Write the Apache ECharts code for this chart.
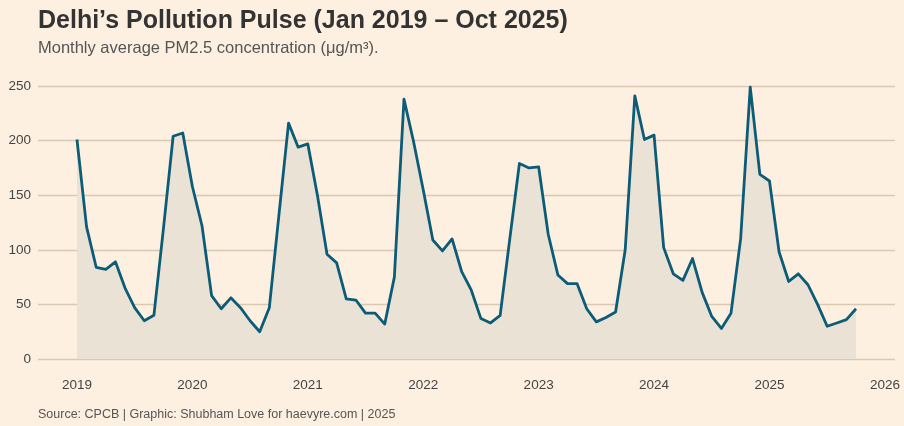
<!DOCTYPE html>
<html>
<head>
<meta charset="utf-8">
<script src="https://cdn.jsdelivr.net/npm/echarts@6/dist/echarts.min.js"></script>
<style>
html,body{margin:0;padding:0;background:#fdf0e1;}
#chart{width:904px;height:426px;}
</style>
</head>
<body>
<div id="chart"></div>
<script>
// Month index 0 = Jan 2019
const startYear = 2019;
const pm25_2019 = [201, 121, 84, 82, 89, 65, 47, 35, 40, 120, 204, 207];
const pm25_2020 = [158, 122, 58, 46, 56, 47, 35, 25, 47, 132, 216, 194];
const pm25_2021 = [197, 150, 96, 88, 55, 54, 42, 42, 32, 75, 238, 199];
const pm25_2022 = [155, 109, 99, 110, 80, 63, 37, 33, 40, 110, 179, 175];
const pm25_2023 = [176, 114, 77, 69, 69, 46, 34, 38, 43, 100, 241, 201];
const pm25_2024 = [205, 102, 78, 72, 92, 61, 39, 28, 42, 110, 249, 169];
const pm25_2025 = [163, 98, 71, 78, 68, 50, 30, 33, 36, 46];
const yearTicks = [2019, 2020, 2021, 2022, 2023, 2024, 2025, 2026];
const yTicks = [0, 50, 100, 150, 200, 250];

const pm25 = [].concat(pm25_2019, pm25_2020, pm25_2021, pm25_2022, pm25_2023, pm25_2024, pm25_2025);
const seriesData = pm25.map((v, i) => [i, v]);
const n = pm25.length - 1;
const pad = n * 0.05;

const FONT = '"Liberation Sans", Arial, Helvetica, sans-serif';
const chart = echarts.init(document.getElementById('chart'), null, {renderer: 'canvas'});
chart.setOption({
  backgroundColor: '#fdf0e1',
  animation: false,
  title: [
    {
      text: 'Delhi\u2019s Pollution Pulse (Jan 2019 \u2013 Oct 2025)',
      left: 33, top: 4,
      textStyle: {fontFamily: FONT, fontSize: 25, fontWeight: 'bold', color: '#333333'}
    },
    {
      text: 'Monthly average PM2.5 concentration (\u03bcg/m\u00b3).',
      left: 33, top: 35,
      textStyle: {fontFamily: FONT, fontSize: 16.5, fontWeight: 'normal', color: '#555555'}
    },
    {
      text: 'Source: CPCB | Graphic: Shubham Love for haevyre.com | 2025',
      left: 33, top: 403,
      textStyle: {fontFamily: FONT, fontSize: 12.5, fontWeight: 'normal', color: '#555555'}
    }
  ],
  grid: {left: 38, right: 9, top: 86, bottom: 67, containLabel: false},
  xAxis: {
    type: 'value',
    min: -pad,
    max: n + pad,
    axisLine: {show: false},
    axisTick: {show: false},
    splitLine: {show: false},
    axisLabel: {
      customValues: yearTicks.map(y => (y - startYear) * 12),
      formatter: v => String(startYear + Math.round(v / 12)),
      margin: 19,
      fontFamily: FONT, fontSize: 13.5, color: '#444444'
    }
  },
  yAxis: {
    type: 'value',
    min: yTicks[0],
    max: yTicks[yTicks.length - 1],
    interval: 50,
    axisLine: {show: false},
    axisTick: {show: false},
    splitLine: {lineStyle: {color: '#d8c8b4', width: 1.3}},
    axisLabel: {margin: 7, fontFamily: FONT, fontSize: 13.5, color: '#444444'}
  },
  series: [{
    type: 'line',
    data: seriesData,
    showSymbol: false,
    symbol: 'none',
    lineStyle: {color: '#0d5c77', width: 2.8, join: 'round'},
    areaStyle: {color: '#ebe2d6', opacity: 1, origin: 'start'},
    z: 3
  }]
});
</script>
</body>
</html>
